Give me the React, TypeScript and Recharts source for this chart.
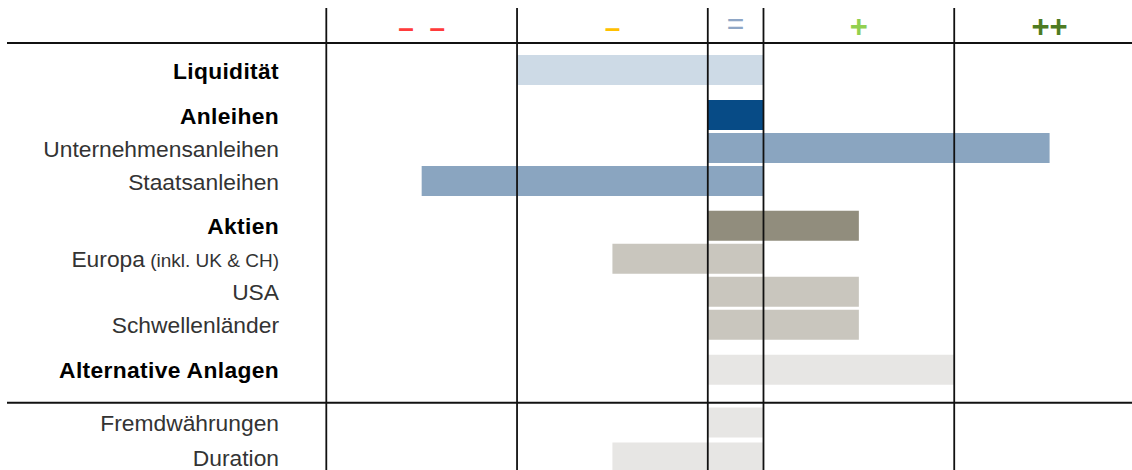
import { Bar, BarChart, Cell, ReferenceLine, XAxis, YAxis } from "recharts";

// rows, top to bottom
const rowLabels = [
  "Liquidität",
  "Anleihen",
  "Unternehmensanleihen",
  "Staatsanleihen",
  "Aktien",
  "Europa",
  "USA",
  "Schwellenländer",
  "Alternative Anlagen",
  "Fremdwährungen",
  "Duration",
];
const rowNotes = ["", "", "", "", "", "(inkl. UK & CH)", "", "", "", "", ""];
const rowKinds = ["class", "class", "sub", "sub", "class", "sub", "sub", "sub", "class", "overlay", "overlay"];
// positioning: -2 = "– –", 0 = "=", +2 = "++"
const ratings = [-1.5, 0, 2, -2, 1, -1, 1, 1, 1.5, 0, -1];

const scaleSteps = [-2, -1, 0, 1, 2];
const scaleLabels = ["– –", "–", "=", "+", "++"];

const rowColors = [
  "#cddae6", "#074b86", "#8aa5c0", "#8aa5c0", "#918d7d",
  "#c9c6be", "#c9c6be", "#c9c6be", "#e7e6e4", "#e7e6e4", "#e7e6e4",
];
const scaleColors = ["#ff3b3b", "#ffc000", "#8ea6c6", "#92d050", "#4e7b22"];

const FONT = "'Liberation Sans', Arial, sans-serif";
// half width of the narrow "=" column, in column units
const H = 0.146;

const toAxis = (s: number) => (s < 0 ? s + 0.5 - H : s > 0 ? s - 0.5 + H : 0);

// rows get extra room before a new asset class and before the overlay block
const rowPos: number[] = [];
rowKinds.forEach((kind, i) => {
  if (i === 0) return rowPos.push(0);
  const prev = rowKinds[i - 1];
  const step =
    kind === "overlay" ? (prev === "overlay" ? 1.06 : 1.6) : kind === "class" ? 1.36 : 1;
  rowPos.push(rowPos[i - 1] + step);
});

const data = rowLabels.map((label, i) => {
  const s = ratings[i];
  const range = s < 0 ? [toAxis(s), H] : s > 0 ? [-H, toAxis(s)] : [-H, H];
  return { label, note: rowNotes[i], kind: rowKinds[i], row: rowPos[i], range };
});

const columnEdges = [-2.5, -1.5, -0.5, 0.5, 1.5].map(toAxis);
const headerLine = -0.833;
const overlayLine = rowPos[rowKinds.indexOf("overlay")] - 0.61;

function renderRowTick(props: any) {
  const v = Number(props.payload?.value);
  const d = data.find((r) => Math.abs(r.row - v) < 1e-3);
  if (!d) return <g />;
  const bold = d.kind === "class";
  return (
    <text
      x={279}
      y={props.y}
      dy="0.36em"
      textAnchor="end"
      fontFamily={FONT}
      fontSize={22.8}
      fontWeight={bold ? 700 : 400}
      letterSpacing={bold ? 0.35 : 0}
      fill={bold ? "#000" : "#333"}
      style={{ whiteSpace: "pre" }}
    >
      {d.label}
      {d.note ? <tspan fontSize={19}>{" " + d.note}</tspan> : null}
    </text>
  );
}

function renderScaleTick(props: any) {
  const v = Number(props.payload?.value);
  const i = scaleSteps.findIndex((s) => Math.abs(toAxis(s) - v) < 1e-3);
  if (i < 0) return <g />;
  const s = scaleSteps[i];
  const neutral = s === 0;
  return (
    <text
      x={props.x}
      y={neutral ? 33.8 : s > 0 ? 37.2 : 36.5}
      textAnchor="middle"
      fontFamily={FONT}
      fontSize={neutral ? 30 : s > 0 ? 31 : 28}
      fontWeight={neutral ? 400 : 700}
      fill={scaleColors[i]}
      style={{ whiteSpace: "pre" }}
    >
      {scaleLabels[i].replace(" ", "  ")}
    </text>
  );
}

export default function App() {
  return (
    <div style={{ position: "absolute", left: 0, top: 0, background: "#fff" }}>
      <BarChart
        width={1132}
        height={470}
        data={data}
        layout="vertical"
        margin={{ top: 7, right: 0, bottom: 0, left: 6 }}
      >
        <XAxis
          type="number"
          orientation="top"
          height={1}
          domain={[-3.82, 2.078]}
          allowDataOverflow
          ticks={scaleSteps.map(toAxis)}
          interval={0}
          axisLine={false}
          tickLine={false}
          tick={renderScaleTick}
        />
        <YAxis
          type="number"
          dataKey="row"
          width={1}
          domain={[-1.894, 12.106]}
          allowDataOverflow
          ticks={rowPos}
          interval={0}
          axisLine={false}
          tickLine={false}
          tick={renderRowTick}
        />
        <Bar dataKey="range" barSize={30} isAnimationActive={false}>
          {data.map((d, i) => (
            <Cell key={d.label} fill={rowColors[i]} />
          ))}
        </Bar>
        {columnEdges.map((x) => (
          <ReferenceLine key={x} x={x} stroke="#111" strokeWidth={1.8} />
        ))}
        <ReferenceLine y={headerLine} stroke="#111" strokeWidth={2} />
        <ReferenceLine y={overlayLine} stroke="#111" strokeWidth={2} />
      </BarChart>
    </div>
  );
}
